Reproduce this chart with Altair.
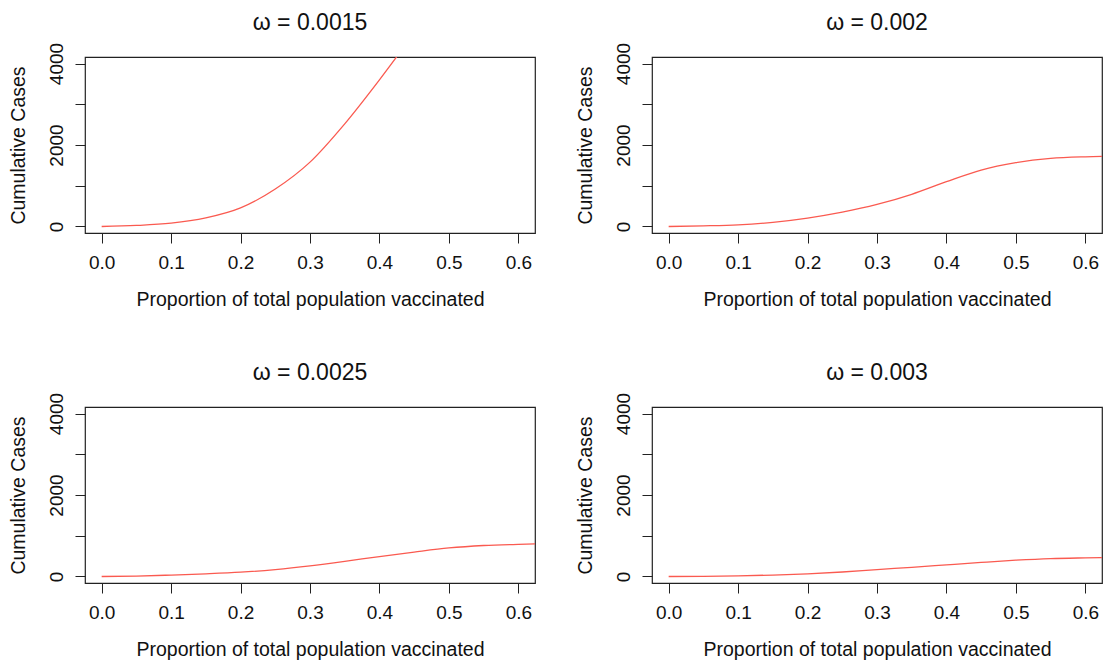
import altair as alt
import pandas as pd

# ---- data ----
omegas = ["0.0015", "0.002", "0.0025", "0.003"]
prop = [0.00, 0.05, 0.10, 0.15, 0.20, 0.25, 0.30, 0.35, 0.40, 0.45, 0.50, 0.55, 0.60, 0.65]
cases_0015 = [0, 25, 80, 210, 455, 920, 1580, 2520, 3600, 4750, None, None, None, None]
cases_002 = [0, 15, 40, 100, 205, 350, 540, 790, 1100, 1385, 1565, 1670, 1710, 1725]
cases_0025 = [0, 10, 35, 65, 105, 170, 260, 370, 490, 600, 700, 760, 790, 805]
cases_003 = [0, 5, 15, 35, 65, 110, 170, 225, 285, 345, 400, 440, 457, 468]
series = [cases_0015, cases_002, cases_0025, cases_003]

x_ticks = [0.0, 0.1, 0.2, 0.3, 0.4, 0.5, 0.6]
y_ticks = [0, 1000, 2000, 3000, 4000]

FONT = "Liberation Sans"
LINE = "#FA5A50"
AX = "#222222"


def panel(omega, values):
    rows = [{"p": p, "c": c} for p, c in zip(prop, values) if c is not None]
    df = pd.DataFrame(rows)
    return (
        alt.Chart(df)
        .mark_line(clip=True, color=LINE, strokeWidth=1.3, interpolate="monotone")
        .encode(
            x=alt.X(
                "p:Q",
                scale=alt.Scale(domain=[-0.024, 0.624], nice=False, zero=False),
                axis=alt.Axis(
                    values=x_ticks,
                    format=".1f",
                    grid=False,
                    domain=False,
                    tickSize=10,
                    tickColor=AX,
                    labelFont=FONT,
                    labelFontSize=19,
                    labelColor="#111",
                    labelBaseline="alphabetic",
                    labelPadding=25,
                    labelOverlap=False,
                    labelFlush=False,
                    title="Proportion of total population vaccinated",
                    titleFont=FONT,
                    titleFontSize=19.5,
                    titleFontWeight="normal",
                    titleColor="#111",
                    titleBaseline="alphabetic",
                    titleX=225,
                    titleY=72,
                ),
            ),
            y=alt.Y(
                "c:Q",
                scale=alt.Scale(domain=[-160, 4160], nice=False, zero=False),
                axis=alt.Axis(
                    values=y_ticks,
                    format="d",
                    labelExpr="datum.value % 2000 == 0 ? datum.label : ''",
                    grid=False,
                    domain=False,
                    tickSize=10,
                    tickColor=AX,
                    labelFont=FONT,
                    labelFontSize=19,
                    labelColor="#111",
                    labelAngle=270,
                    labelAlign="center",
                    labelBaseline="alphabetic",
                    labelPadding=13,
                    labelOverlap=False,
                    labelFlush=False,
                    title="Cumulative Cases",
                    titleFont=FONT,
                    titleFontSize=19.5,
                    titleFontWeight="normal",
                    titleColor="#111",
                    titleAngle=270,
                    titleBaseline="alphabetic",
                    titleAlign="center",
                    titleX=-61,
                    titleY=88,
                ),
            ),
        )
        .properties(
            width=450,
            height=176,
            view=alt.ViewBackground(stroke=AX, strokeWidth=1.2),
            title=alt.TitleParams(
                text=f"ω = {omega}",
                font=FONT,
                fontSize=23,
                fontWeight="normal",
                color="#111",
                anchor="middle",
                baseline="alphabetic",
                offset=-11,
            ),
        )
    )


panels = [panel(o, s) for o, s in zip(omegas, series)]

chart = (
    alt.concat(*panels, columns=2, spacing={"row": 174, "column": 117})
    .properties(
        bounds="flush",
        padding={"left": 7, "top": 11, "right": 2, "bottom": 0},
    )
    .configure_view(stroke=AX, strokeWidth=1.2)
    .configure(background="white")
)

chart.save("out.html", embed_options={"renderer": "svg", "actions": False})
